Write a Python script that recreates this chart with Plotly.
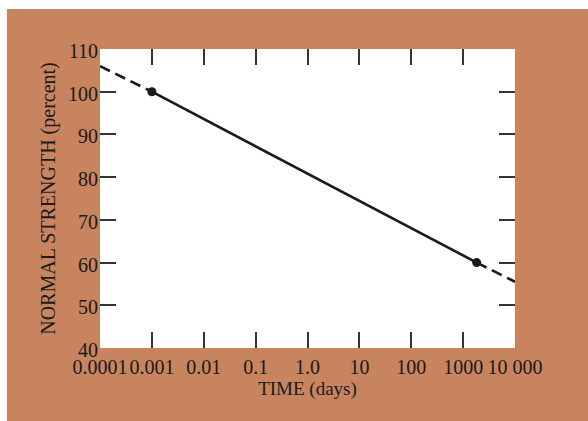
import plotly.graph_objects as go

# ---- data ----
x_tick_vals = [0.0001, 0.001, 0.01, 0.1, 1.0, 10, 100, 1000, 10000]
x_tick_text = ["0.0001", "0.001", "0.01", "0.1", "1.0", "10", "100", "1000", "10 000"]
x_inner_ticks = [0.001, 0.01, 0.1, 1.0, 10, 100, 1000]
y_tick_vals = [40, 50, 60, 70, 80, 90, 100, 110]
y_inner_ticks = [50, 60, 70, 80, 90, 100]

measured_days = [0.001, 1825]        # measured points
measured_strength = [100, 60]
early_days = [0.0001, 0.001]         # dashed extrapolation, left
early_strength = [106, 100]
late_days = [1825, 10000]            # dashed extrapolation, right
late_strength = [60, 55.5]

ORANGE = "#C8845F"
INK = "#1a1a1a"
FONT = "Liberation Serif"

fig = go.Figure()
fig.add_trace(go.Scatter(x=early_days, y=early_strength, mode="lines",
                         line=dict(color=INK, width=2.6, dash="11px,6px"),
                         showlegend=False, hoverinfo="skip"))
fig.add_trace(go.Scatter(x=late_days, y=late_strength, mode="lines",
                         line=dict(color=INK, width=2.6, dash="11px,6px"),
                         showlegend=False, hoverinfo="skip"))
fig.add_trace(go.Scatter(x=measured_days, y=measured_strength, mode="lines+markers",
                         line=dict(color=INK, width=2.6),
                         marker=dict(color=INK, size=9),
                         showlegend=False))
# helper trace so the tick-only overlay axes exist
fig.add_trace(go.Scatter(x=[], y=[], xaxis="x2", yaxis="y2",
                         showlegend=False, hoverinfo="skip"))

tickfont = dict(family=FONT, size=20, color=INK)

# plot area in page pixels: x 100..515, y 49..348 (figure 588 x 421)
L, R, T, B = 100, 73, 49, 73
PW, PH = 588 - L - R, 421 - T - B

fig.update_layout(
    width=588, height=421,
    margin=dict(l=L, r=R, t=T, b=B),
    paper_bgcolor=ORANGE,
    plot_bgcolor="white",
    xaxis=dict(type="log", range=[-4, 4], tickmode="array",
               tickvals=x_tick_vals, ticktext=x_tick_text, ticks="",
               tickangle=0,
               showgrid=False, zeroline=False, showline=False,
               tickfont=tickfont, ticklabelstandoff=5,
               title=dict(text="TIME (days)", font=dict(family=FONT, size=19, color=INK),
                          standoff=0)),
    xaxis2=dict(type="log", range=[-4, 4], overlaying="x", anchor="y", side="bottom",
                tickmode="array", tickvals=x_inner_ticks, ticks="inside",
                ticklen=16, tickwidth=1.5, tickcolor="#333333",
                showticklabels=False, mirror="ticks",
                showgrid=False, zeroline=False, showline=False),
    yaxis=dict(range=[40, 110], tickmode="array", tickvals=y_tick_vals, ticks="",
               showgrid=False, zeroline=False, showline=False,
               tickfont=tickfont, ticklabelstandoff=1, ticklabelshift=2,
               title=dict(text="NORMAL STRENGTH (percent)",
                          font=dict(family=FONT, size=20, color=INK), standoff=7)),
    yaxis2=dict(range=[40, 110], overlaying="y", anchor="x", side="left",
                tickmode="array", tickvals=y_inner_ticks, ticks="inside",
                ticklen=16, tickwidth=1.5, tickcolor="#333333",
                showticklabels=False, mirror="ticks",
                showgrid=False, zeroline=False, showline=False),
    shapes=[
        # thin white page strips along the top and left edge
        dict(type="rect", xref="paper", yref="paper", layer="below",
             x0=-1, x1=2, y0=(PH + T - 9) / PH, y1=2,
             fillcolor="white", line=dict(width=0)),
        dict(type="rect", xref="paper", yref="paper", layer="below",
             x0=-1, x1=(7 - L) / PW, y0=-1, y1=2,
             fillcolor="white", line=dict(width=0)),
    ],
)

fig.write_html("out.html",
               config={"displayModeBar": False},
               post_script="document.body.style.margin='0';"
                           "document.body.style.overflow='hidden';")
